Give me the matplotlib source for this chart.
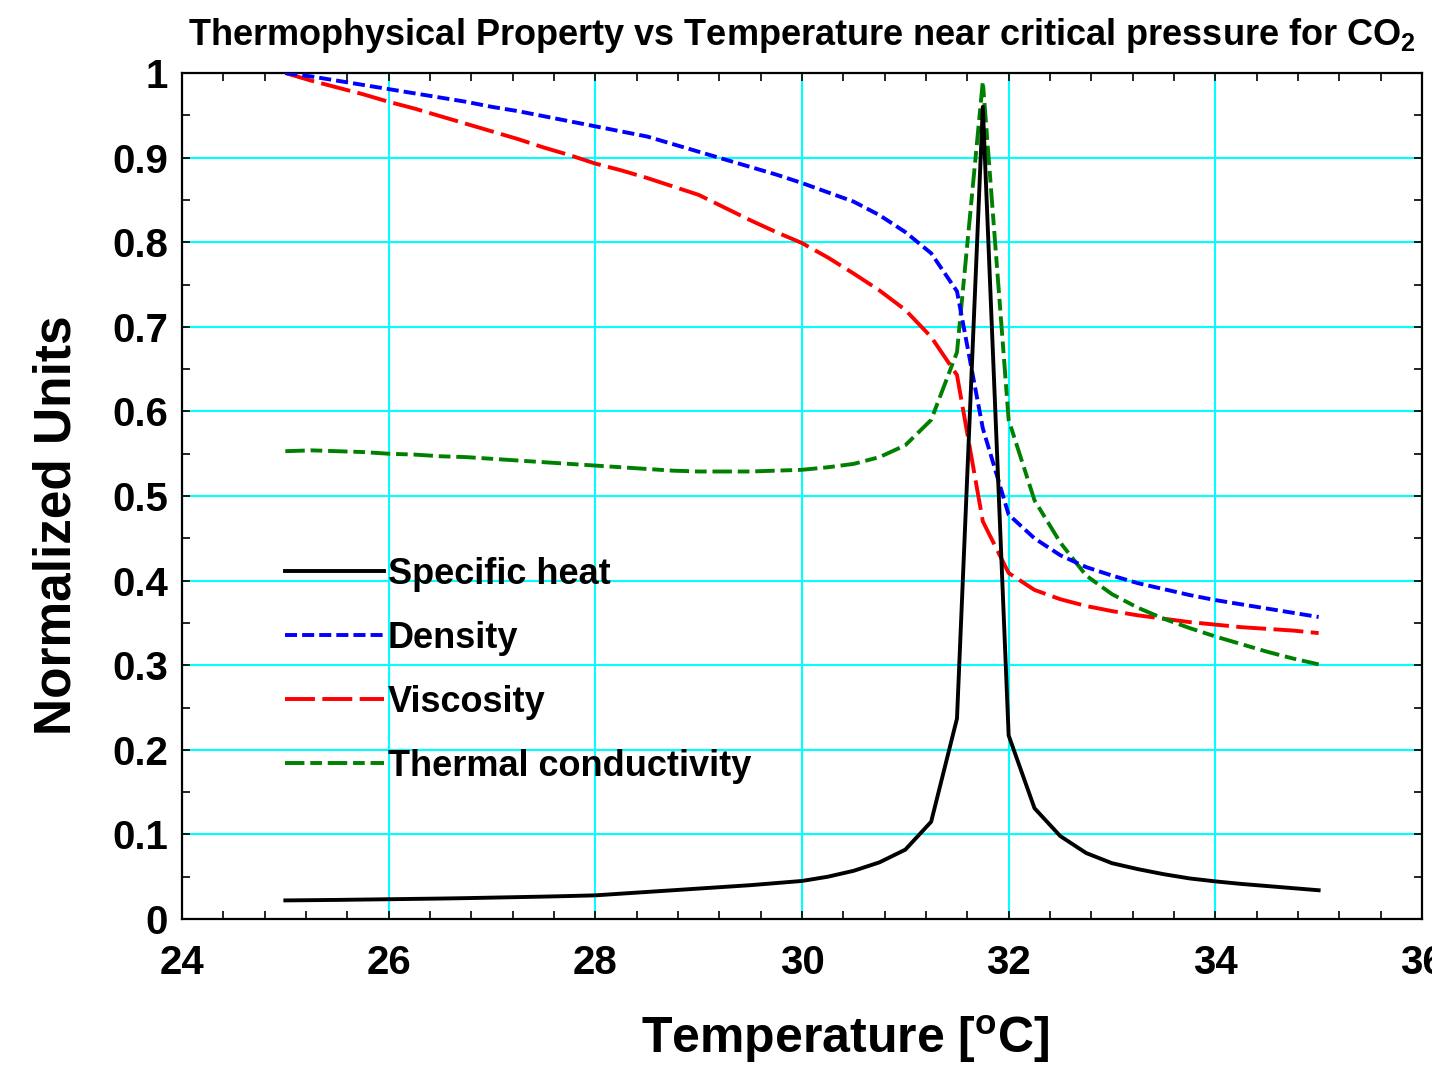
import numpy as np
import matplotlib
matplotlib.use("Agg")
import matplotlib.pyplot as plt
from matplotlib.ticker import MultipleLocator

# Temperature grid [C]
temperature = [
    25.00, 25.25, 25.50, 25.75, 26.00, 26.25, 26.50, 26.75, 27.00, 27.25,
    27.50, 27.75, 28.00, 28.25, 28.50, 28.75, 29.00, 29.25, 29.50, 29.75,
    30.00, 30.25, 30.50, 30.75, 31.00, 31.25, 31.50, 31.75, 32.00, 32.25,
    32.50, 32.75, 33.00, 33.25, 33.50, 33.75, 34.00, 34.25, 34.50, 34.75,
    35.00,
]

# Normalized properties
specific_heat = [
    0.0220, 0.0223, 0.0226, 0.0230, 0.0234, 0.0238, 0.0242, 0.0247, 0.0253, 0.0259,
    0.0265, 0.0272, 0.0280, 0.0300, 0.0320, 0.0340, 0.0360, 0.0380, 0.0400, 0.0425,
    0.0450, 0.0500, 0.0570, 0.0670, 0.0820, 0.1150, 0.2370, 0.9600, 0.2170, 0.1310,
    0.0980, 0.0780, 0.0660, 0.0590, 0.0530, 0.0480, 0.0445, 0.0415, 0.0390, 0.0365,
    0.0340,
]
density = [
    1.000, 0.996, 0.991, 0.986, 0.981, 0.976, 0.971, 0.966, 0.960, 0.955,
    0.949, 0.943, 0.937, 0.931, 0.925, 0.916, 0.907, 0.898, 0.889, 0.880,
    0.870, 0.859, 0.848, 0.832, 0.812, 0.787, 0.742, 0.580, 0.478, 0.450,
    0.430, 0.416, 0.406, 0.397, 0.390, 0.383, 0.377, 0.372, 0.367, 0.362,
    0.357,
]
viscosity = [
    1.000, 0.991, 0.983, 0.975, 0.966, 0.958, 0.949, 0.940, 0.931, 0.922,
    0.912, 0.903, 0.893, 0.885, 0.876, 0.866, 0.856, 0.841, 0.826, 0.812,
    0.799, 0.782, 0.763, 0.743, 0.720, 0.688, 0.643, 0.470, 0.409, 0.389,
    0.378, 0.370, 0.364, 0.359, 0.355, 0.351, 0.348, 0.345, 0.343, 0.341,
    0.338,
]
thermal_conductivity = [
    0.553, 0.554, 0.553, 0.552, 0.550, 0.549, 0.547, 0.546, 0.544, 0.542,
    0.540, 0.538, 0.536, 0.534, 0.532, 0.530, 0.529, 0.529, 0.529, 0.530,
    0.531, 0.534, 0.538, 0.546, 0.560, 0.590, 0.670, 0.990, 0.590, 0.495,
    0.445, 0.406, 0.384, 0.368, 0.355, 0.344, 0.334, 0.325, 0.316, 0.308,
    0.301,
]

plt.rcParams["font.family"] = ["Liberation Sans", "DejaVu Sans"]
plt.rcParams["font.weight"] = "bold"
plt.rcParams["mathtext.fontset"] = "custom"
plt.rcParams["mathtext.rm"] = "Liberation Sans:bold"
plt.rcParams["mathtext.bf"] = "Liberation Sans:bold"

fig = plt.figure(figsize=(14.32, 10.71), dpi=100)
ax = fig.add_axes([0.1271, 0.1419, 0.8659, 0.7899])

lw = 2.8
ax.plot(temperature, specific_heat, color="black", linestyle="-", lw=lw,
        label="Specific heat", zorder=5)
ax.plot(temperature, density, color="blue", linestyle=(0, (3.1, 1.3)), lw=lw,
        label="Density", zorder=4)
ax.plot(temperature, viscosity, color="red", linestyle=(0, (7.7, 1.9)), lw=lw,
        label="Viscosity", zorder=3)
ax.plot(temperature, thermal_conductivity, color="green",
        linestyle=(0, (5.0, 1.5, 3.0, 1.5)), lw=lw,
        label="Thermal conductivity", zorder=3)

# Axes limits, ticks and grid
ax.set_xlim(24, 36)
ax.set_ylim(0, 1)
ax.xaxis.set_major_locator(MultipleLocator(2))
ax.xaxis.set_minor_locator(MultipleLocator(0.4))
ax.yaxis.set_minor_locator(MultipleLocator(0.05))
ax.set_yticks(np.arange(0, 1.01, 0.1))
ax.set_yticklabels(["0", "0.1", "0.2", "0.3", "0.4", "0.5", "0.6", "0.7",
                    "0.8", "0.9", "1"])
ax.grid(True, which="major", color="cyan", lw=1.5, zorder=0)
ax.set_axisbelow(True)
ax.tick_params(which="both", direction="in", top=True, right=True,
               length=6, width=1.2, color="black")
ax.tick_params(axis="x", pad=18, labelsize=29)
ax.tick_params(axis="y", pad=10, labelsize=29)
for lab in ax.get_xticklabels() + ax.get_yticklabels():
    lab.set_fontweight("bold")
for sp in ax.spines.values():
    sp.set_linewidth(1.6)

ax.set_xlabel(r"Temperature [$^{\mathbf{o}}$C]", fontsize=36,
              fontweight="bold", labelpad=22)
ax.xaxis.label.set_x(0.535)
ax.set_ylabel("Normalized Units", fontsize=37, fontweight="bold", labelpad=22)
ax.yaxis.label.set_y(0.466)
ax.set_title(r"Thermophysical Property vs Temperature near critical pressure for CO$_\mathbf{2}$",
             fontsize=26, fontweight="bold", pad=20)

leg = ax.legend(loc="upper left", bbox_to_anchor=(0.083, 0.428), frameon=False,
                fontsize=26, handlelength=2.75, handletextpad=0.1,
                labelspacing=0.8, borderpad=0, borderaxespad=0)
for txt in leg.get_texts():
    txt.set_fontweight("bold")

plt.savefig("out.png", dpi=100)
